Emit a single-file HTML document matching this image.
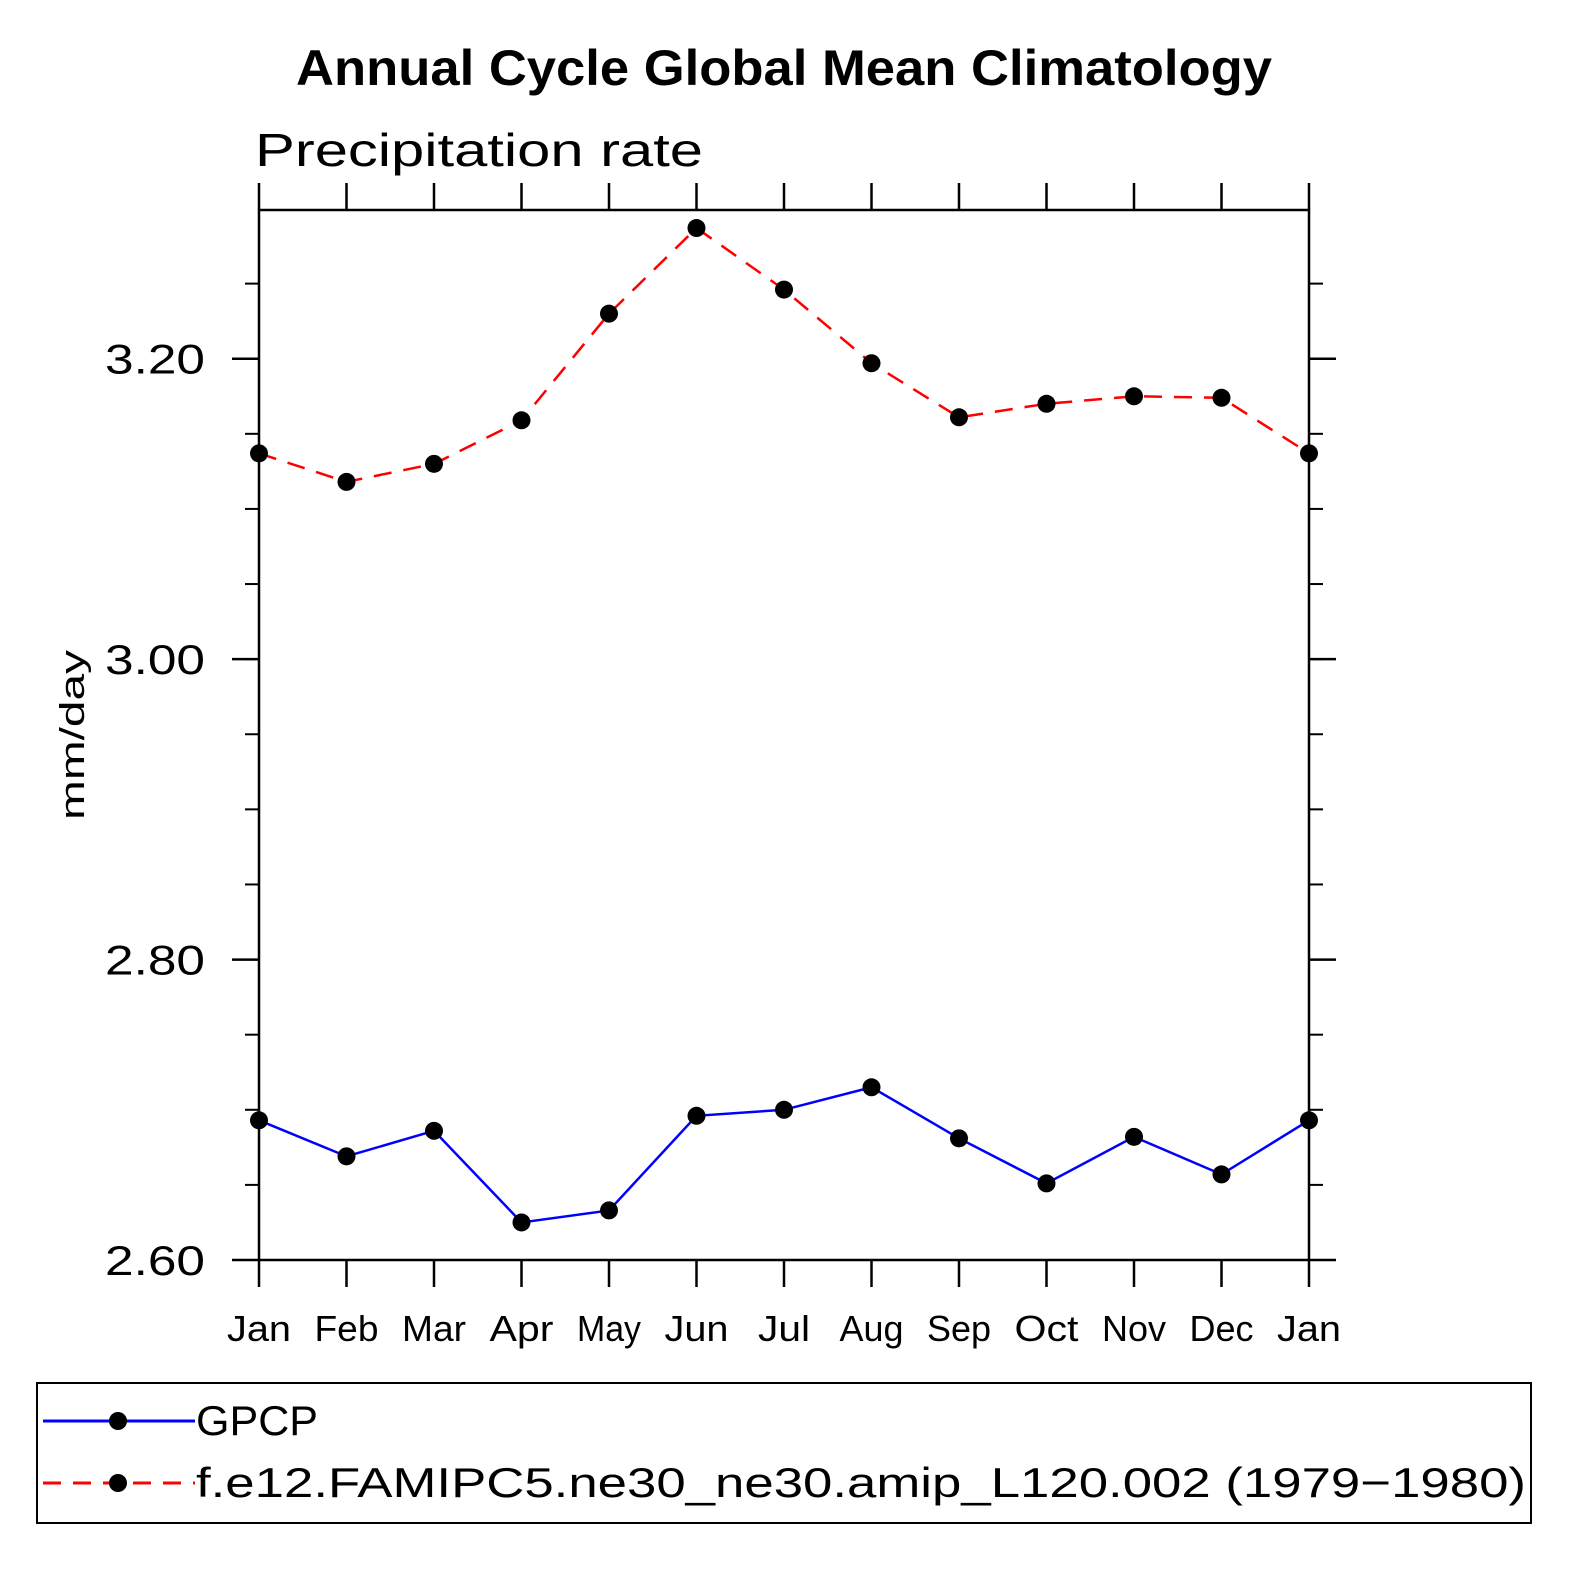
<!DOCTYPE html>
<html><head><meta charset="utf-8"><style>
body{margin:0;background:#fff;overflow:hidden}
svg{display:block}
svg text{font-family:"Liberation Sans",sans-serif}
</style></head><body>
<svg width="1575" height="1575" viewBox="0 0 1575 1575" xmlns="http://www.w3.org/2000/svg">
<rect width="1575" height="1575" fill="#fff"/>
<text x="296" y="85" font-size="50" font-weight="bold" textLength="976" lengthAdjust="spacingAndGlyphs">Annual Cycle Global Mean Climatology</text>
<text x="255" y="166" font-size="46" textLength="448" lengthAdjust="spacingAndGlyphs">Precipitation rate</text>
<text transform="translate(84,735) rotate(-90)" text-anchor="middle" font-size="34" textLength="170" lengthAdjust="spacingAndGlyphs">mm/day</text>
<g id="axes"></g>
<g id="series"></g>
<rect x="37" y="1383" width="1494" height="140" fill="none" stroke="#000" stroke-width="2"/>
<g>
<line x1="43" y1="1421" x2="195" y2="1421" stroke="#00f" stroke-width="3"/>
<circle cx="118" cy="1421" r="9" fill="#000"/>
<text x="196" y="1435" font-size="42" textLength="122" lengthAdjust="spacingAndGlyphs">GPCP</text></g>
<g>
<line x1="43" y1="1483" x2="195" y2="1483" stroke="#f00" stroke-width="3" stroke-dasharray="18,12"/>
<circle cx="118" cy="1483" r="9" fill="#000"/>
<text x="196" y="1497" font-size="42" textLength="1330" lengthAdjust="spacingAndGlyphs">f.e12.FAMIPC5.ne30_ne30.amip_L120.002 (1979−1980)</text></g>
</svg>
<script>
const months=["Jan","Feb","Mar","Apr","May","Jun","Jul","Aug","Sep","Oct","Nov","Dec","Jan"];
const gpcp=[2.693,2.669,2.686,2.625,2.633,2.696,2.700,2.715,2.681,2.651,2.682,2.657,2.693];
const model=[3.137,3.118,3.130,3.159,3.230,3.287,3.246,3.197,3.161,3.170,3.175,3.174,3.137];
const yTicks=[2.60,2.80,3.00,3.20];
const yMin=2.6,yMax=3.299;
const X0=259,X1=1309,Y0=1260,Y1=210;
const xs=i=>X0+(X1-X0)*i/(months.length-1);
const ys=v=>Y0-(v-yMin)/(yMax-yMin)*(Y0-Y1);
const NS="http://www.w3.org/2000/svg";
const ax=document.getElementById('axes'),se=document.getElementById('series');
function mk(p,t,a){const e=document.createElementNS(NS,t);for(const k in a)e.setAttribute(k,a[k]);p.appendChild(e);return e;}
const fr=mk(ax,'rect',{x:X0,y:Y1,width:X1-X0,height:Y0-Y1,fill:'none',stroke:'#000','stroke-width':2.5});


months.forEach((m,i)=>{const x=xs(i);
mk(ax,'line',{x1:x,y1:Y0,x2:x,y2:Y0+27,stroke:'#000','stroke-width':2.5});
mk(ax,'line',{x1:x,y1:Y1,x2:x,y2:Y1-27,stroke:'#000','stroke-width':2.5});
const w=m.length===3?(m==="Jul"?52:64):64;
const t=mk(ax,'text',{x:x,y:1341,'text-anchor':'middle','font-size':36,textLength:w,lengthAdjust:'spacingAndGlyphs'});t.textContent=m;

});
for(let v=yMin;v<=yMax+1e-9;v+=0.05){const y=ys(v);
mk(ax,'line',{x1:X0-14,y1:y,x2:X0,y2:y,stroke:'#000','stroke-width':2});
mk(ax,'line',{x1:X1,y1:y,x2:X1+14,y2:y,stroke:'#000','stroke-width':2});}
yTicks.forEach(v=>{const y=ys(v);
mk(ax,'line',{x1:X0-27,y1:y,x2:X0,y2:y,stroke:'#000','stroke-width':2.5});
mk(ax,'line',{x1:X1,y1:y,x2:X1+27,y2:y,stroke:'#000','stroke-width':2.5});
const t=mk(ax,'text',{x:205,y:y+15,'text-anchor':'end','font-size':42,textLength:100,lengthAdjust:'spacingAndGlyphs'});t.textContent=v.toFixed(2);

});
function series(d,col,dash,name){
const pl=mk(se,'polyline',{points:d.map((v,i)=>xs(i)+','+ys(v)).join(' '),fill:'none',stroke:col,'stroke-width':2.5,'stroke-dasharray':dash});


d.forEach((v,i)=>{const c=mk(se,'circle',{cx:xs(i),cy:ys(v),r:9,fill:'#000'});

});}
series(gpcp,'#00f','none','gpcp');
series(model,'#f00','18,12','model');
</script>
</body></html>
